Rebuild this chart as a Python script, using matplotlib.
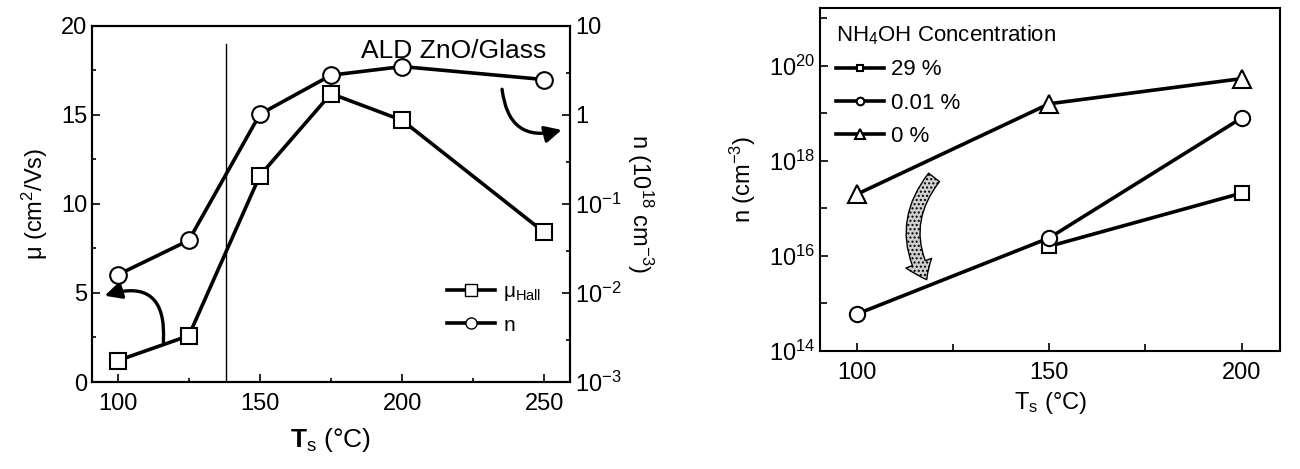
import matplotlib
matplotlib.use("Agg")
import matplotlib.pyplot as plt
import numpy as np
from matplotlib.lines import Line2D
from matplotlib.patches import FancyArrowPatch
from matplotlib.ticker import FixedLocator, FuncFormatter, NullFormatter

plt.rcParams['font.family'] = ['Liberation Sans', 'DejaVu Sans']
plt.rcParams['mathtext.fontset'] = 'custom'
plt.rcParams['mathtext.rm'] = 'Liberation Sans'
plt.rcParams['mathtext.it'] = 'Liberation Sans'
plt.rcParams['mathtext.bf'] = 'Liberation Sans:bold'

# ---- left panel data ----
ts_left = [100, 125, 150, 175, 200, 250]
mu_hall = [1.2, 2.6, 11.6, 16.2, 14.7, 8.4]
n_left = [0.016, 0.039, 1.02, 2.8, 3.5, 2.5]   # 10^18 cm^-3
vline_x = 138

# ---- right panel data ----
ts_29 = [150, 200]
n_29 = [1.6e16, 2.1e17]
ts_001 = [100, 150, 200]
n_001 = [6.0e14, 2.4e16, 8.0e18]
ts_0 = [100, 150, 200]
n_0 = [2.0e17, 1.6e19, 5.4e19]

left_xticks = [100, 150, 200, 250]
right_xticks = [100, 150, 200]

fig = plt.figure(figsize=(13, 4.69), dpi=100)

FS = 17
LW = 2.6
MS = 11

# ---------- left panel ----------
ax1 = fig.add_axes([0.0708, 0.1855, 0.3677, 0.7591])
ax2 = ax1.twinx()
ax1.set_xlim(91, 259)
ax1.set_ylim(0, 20)
ax2.set_yscale('log')
ax2.set_ylim(1e-3, 10)

ax1.plot(ts_left, mu_hall, color='black', lw=LW, marker='s', ms=MS,
         mfc='white', mec='black', mew=1.5, zorder=3)
ax2.plot(ts_left, n_left, color='black', lw=LW, marker='o', ms=MS + 1,
         mfc='white', mec='black', mew=1.5, zorder=3)
ax1.plot([vline_x, vline_x], [0, 19], color='black', lw=1.0)

ax1.set_xticks(left_xticks)
ax1.set_xticks([125, 175, 225], minor=True)
ax1.set_yticks([0, 5, 10, 15, 20])
ax1.set_yticks([2.5, 7.5, 12.5, 17.5], minor=True)
ax2.yaxis.set_major_locator(FixedLocator([1e-3, 1e-2, 1e-1, 1, 10]))
labels_r = {-3: '10$^{-3}$', -2: '10$^{-2}$', -1: '10$^{-1}$', 0: '1', 1: '10'}
ax2.yaxis.set_major_formatter(FuncFormatter(lambda v, p: labels_r.get(int(round(np.log10(v))), '')))
ax2.yaxis.set_minor_locator(FixedLocator([3e-3, 3e-2, 3e-1, 3]))
ax2.yaxis.set_minor_formatter(NullFormatter())

for a in (ax1, ax2):
    a.tick_params(which='both', direction='in', labelsize=FS, width=1.2)
    a.tick_params(which='major', length=6)
    a.tick_params(which='minor', length=3)
    for s in a.spines.values():
        s.set_linewidth(1.5)
ax1.tick_params(axis='x', pad=8)

ax1.set_ylabel(r'$\mu$ (cm$^2$/Vs)', fontsize=FS, labelpad=8)
ax2.set_ylabel(r'n (10$^{18}$ cm$^{-3}$)', fontsize=FS, rotation=-90, labelpad=24)
ax1.set_xlabel(r'$\mathbf{T}_s$ (°C)', fontsize=FS + 2, labelpad=8)

ax1.text(0.95, 0.93, 'ALD ZnO/Glass', transform=ax1.transAxes, fontsize=FS + 2,
         ha='right', va='center')

h1 = Line2D([], [], color='black', lw=LW, marker='s', ms=8, mfc='white', mec='black')
h2 = Line2D([], [], color='black', lw=LW, marker='o', ms=8, mfc='white', mec='black')
ax1.legend([h1, h2], [r'$\mu_{Hall}$', 'n'], loc='lower right', frameon=False,
           fontsize=FS - 2, handlelength=2.3, bbox_to_anchor=(0.98, 0.08),
           labelspacing=0.6, handletextpad=0.4)

ax1.annotate('', xy=(94.5, 4.8), xytext=(116, 2.1),
             arrowprops=dict(arrowstyle='-|>,head_length=1.0,head_width=0.5',
                             lw=2.4, color='black', connectionstyle='arc3,rad=0.75'))
ax1.annotate('', xy=(257, 14.2), xytext=(235, 16.6),
             arrowprops=dict(arrowstyle='-|>,head_length=1.0,head_width=0.5',
                             lw=2.4, color='black', connectionstyle='arc3,rad=0.6'))

# ---------- right panel ----------
ax3 = fig.add_axes([0.6308, 0.2516, 0.3538, 0.7314])
ax3.set_yscale('log')
ax3.set_xlim(90.4, 210)
ax3.set_ylim(1e14, 10 ** 21.22)

ax3.plot(ts_29, n_29, color='black', lw=LW, marker='s', ms=MS - 1,
         mfc='white', mec='black', mew=1.5, zorder=3, label='29 %')
ax3.plot(ts_001, n_001, color='black', lw=LW, marker='o', ms=MS,
         mfc='white', mec='black', mew=1.5, zorder=3, label='0.01 %')
ax3.plot(ts_0, n_0, color='black', lw=LW, marker='^', ms=MS + 2,
         mfc='white', mec='black', mew=1.5, zorder=3, label='0 %')

ax3.set_xticks(right_xticks)
ax3.set_xticks([125, 175], minor=True)
ax3.yaxis.set_major_locator(FixedLocator([1e14, 1e16, 1e18, 1e20]))
ax3.yaxis.set_major_formatter(FuncFormatter(lambda v, p: '10$^{%d}$' % round(np.log10(v))))
ax3.yaxis.set_minor_locator(FixedLocator([1e15, 1e17, 1e19, 1e21]))
ax3.yaxis.set_minor_formatter(NullFormatter())
ax3.tick_params(which='both', direction='in', labelsize=FS, width=1.2)
ax3.tick_params(which='major', length=6)
ax3.tick_params(which='minor', length=5)
ax3.tick_params(axis='x', pad=8)
for s in ax3.spines.values():
    s.set_linewidth(1.5)

ax3.set_ylabel(r'n (cm$^{-3}$)', fontsize=FS, labelpad=8)
ax3.set_xlabel(r'T$_s$ (°C)', fontsize=FS, labelpad=4)

leg = ax3.legend(loc='upper left', frameon=False, fontsize=FS - 1,
                 title=r'NH$_4$OH Concentration', title_fontsize=FS - 1,
                 handlelength=2.2, labelspacing=0.55, handletextpad=0.3,
                 borderaxespad=0.3, markerscale=0.5)
leg._legend_box.align = 'left'

arr = FancyArrowPatch((120.5, 10 ** 17.7), (118.5, 10 ** 15.45),
                      arrowstyle='simple,head_length=0.6,head_width=0.9,tail_width=0.45',
                      connectionstyle='arc3,rad=0.35', mutation_scale=22,
                      facecolor='#d0d0d0', edgecolor='black', lw=1.0, hatch='....')
ax3.add_patch(arr)

fig.savefig('out.png', dpi=100)
